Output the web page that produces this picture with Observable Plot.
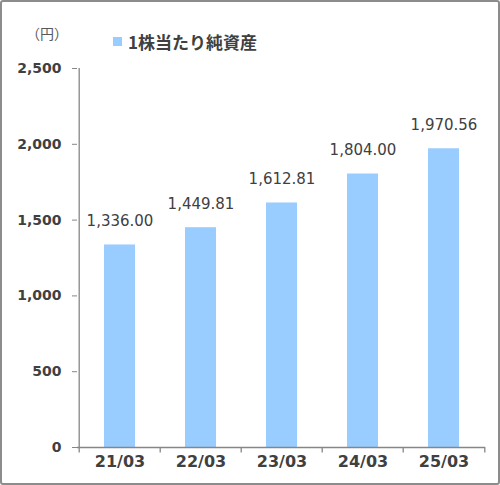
<!DOCTYPE html>
<html><head><meta charset="utf-8">
<script src="https://cdn.jsdelivr.net/npm/d3@7"></script>
<script src="https://cdn.jsdelivr.net/npm/@observablehq/plot@0.6"></script>
<style>
html,body{margin:0;padding:0;background:#fff;}
#wrap{position:relative;width:500px;height:485px;overflow:hidden;font-family:"Noto Sans CJK JP","Noto Sans",sans-serif;}
#border{position:absolute;left:0;top:0;width:500px;height:485px;box-sizing:border-box;border:2px solid #8c8c8c;border-radius:3px;pointer-events:none;}
#unit{position:absolute;left:26px;top:23px;font-size:14px;color:#595959;}
#legend{position:absolute;left:113px;top:29px;font-size:17px;font-weight:bold;color:#404040;display:flex;align-items:center;}
#legend span.sw{display:inline-block;width:9px;height:9px;background:#99ccff;margin-right:6px;}
svg{position:absolute;left:0;top:0;}
</style></head>
<body><div id="wrap"><div id="unit">（円）</div><div id="legend"><span class="sw"></span>1株当たり純資産</div></div>
<script>
const categories = ["21/03","22/03","23/03","24/03","25/03"];
const values = [1336.00, 1449.81, 1612.81, 1804.00, 1970.56];
const valueLabels = ["1,336.00","1,449.81","1,612.81","1,804.00","1,970.56"];
const yTicks = [0,500,1000,1500,2000,2500];

const data = categories.map((c,i)=>({cat:c, v:values[i], label:valueLabels[i]}));
const mL = 77, mR = 15, W = 500;
const step = (W - mL - mR) / categories.length;
const numFont = '"DejaVu Sans",sans-serif';

const chart = Plot.plot({
  width: 500, height: 485,
  marginLeft: mL, marginRight: mR, marginTop: 68, marginBottom: 38,
  style: {fontFamily: numFont, background: "transparent"},
  x: {domain: categories, paddingInner: 0.62, paddingOuter: 0.31, label: null},
  y: {domain: [0, 2500], label: null},
  marks: [
    Plot.barY(data, {x: "cat", y: "v", fill: "#99ccff"}),
    Plot.text(data, {x: "cat", y: "v", text: "label", dy: -24, fontSize: 15, fill: "#404040"}),
    Plot.ruleX([categories[0]], {dx: -step/2, y1: 0, y2: 2500, stroke: "#868686", strokeWidth: 1.3}),
    Plot.ruleY([0], {stroke: "#868686", strokeWidth: 1.3}),
    Plot.ruleX(categories, {dx: -step/2, y1: 0, y2: -36, stroke: "#868686", strokeWidth: 1.3}),
    Plot.ruleX([categories[categories.length-1]], {dx: step/2, y1: 0, y2: -36, stroke: "#868686", strokeWidth: 1.3}),
    Plot.axisY({ticks: yTicks, tickFormat: d3.format(","), tickSize: 5, tickPadding: 11, fontSize: 14, fontWeight: "bold", color: "#404040", stroke: "#868686", label: null}),
    Plot.axisX({tickSize: 0, tickPadding: 8, fontSize: 16, fontWeight: "bold", fill: "#404040", label: null})
  ]
});
document.getElementById("wrap").prepend(chart);
const b = document.createElement("div"); b.id = "border";
document.getElementById("wrap").appendChild(b);
</script></body></html>
